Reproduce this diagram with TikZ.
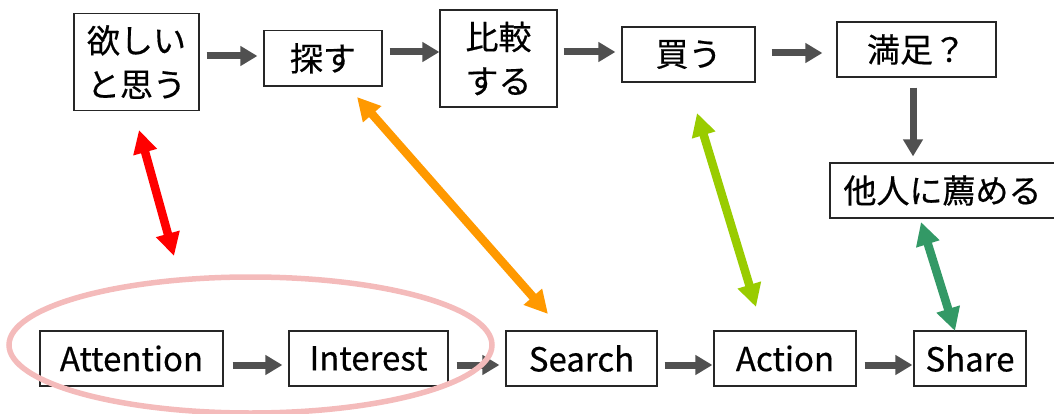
\documentclass[tikz,border=0pt]{standalone}
\usepackage{fontspec}
\setmainfont{Noto Sans CJK JP}[FakeBold=0.5]
\usetikzlibrary{arrows.meta}
\definecolor{arrgray}{HTML}{505050}
\definecolor{cred}{HTML}{FF0000}
\definecolor{corange}{HTML}{FF9900}
\definecolor{cyg}{HTML}{99CC00}
\definecolor{cgreen}{HTML}{339966}
\definecolor{cpink}{HTML}{F4BBBB}
\tikzset{
  stagebox/.style={draw=black!85, line width=1.2pt, inner sep=0pt, align=center,
    font=\fontsize{33pt}{44pt}\selectfont},
  grayarr/.style={draw=arrgray, line width=7pt, -{Triangle[length=17pt,width=19pt]}},
  linkarr/.style={line width=8.5pt, {Triangle[length=23pt,width=23pt]}-{Triangle[length=23pt,width=23pt]}},
  pinkring/.style={draw=cpink, line width=5.5pt}
}
\begin{document}
\begin{tikzpicture}[x=1pt,y=-1pt]
\useasboundingbox (0,0) rectangle (1054,414);
% top row
\node[stagebox, minimum width=125pt, minimum height=97.4pt] (want) at (136.5,62) {欲しい\\と思う};
\node[stagebox, minimum width=118pt, minimum height=55.3pt] (sagasu) at (323,58.3) {探す};
\node[stagebox, minimum width=117pt, minimum height=97pt] (hikaku) at (498.5,58.5) {比較\\する};
\node[stagebox, minimum width=133pt, minimum height=55pt] (kau) at (688.5,54.5) {買う};
\node[stagebox, minimum width=159pt, minimum height=55pt] (manzoku) at (916.5,49.5) {満足？};
\node[stagebox, minimum width=225pt, minimum height=55pt] (susumeru) at (942.5,190.5) {他人に薦める};
% bottom row
\node[stagebox, minimum width=183pt, minimum height=55pt] (attention) at (131.5,358.5) {Attention};
\node[stagebox, minimum width=159pt, minimum height=55pt] (interest) at (368.5,358.5) {Interest};
\node[stagebox, minimum width=151pt, minimum height=55pt] (search) at (581.5,358.5) {Search};
\node[stagebox, minimum width=142pt, minimum height=55pt] (action) at (785,358.5) {Action};
\node[stagebox, minimum width=112pt, minimum height=55pt] (share) at (970,358.5) {Share};
% gray flow arrows
\draw[grayarr, shorten <=7pt, shorten >=6pt] (want.east |- 0,56) -- (sagasu.west |- 0,56);
\draw[grayarr, shorten <=7pt, shorten >=0pt] (sagasu.east |- 0,52) -- (hikaku.west |- 0,52);
\draw[grayarr, shorten <=6pt, shorten >=6pt] (hikaku.east |- 0,52) -- (kau.west |- 0,52);
\draw[grayarr, shorten <=16pt, shorten >=14pt] (kau.east |- 0,53) -- (manzoku.west |- 0,53);
\draw[grayarr, shorten <=10pt, shorten >=6pt] (manzoku.south -| 913,0) -- (susumeru.north -| 913,0);
\draw[grayarr, shorten <=9pt, shorten >=6pt] (attention.east |- 0,365) -- (interest.west |- 0,365);
\draw[grayarr, shorten <=8pt, shorten >=6pt] (interest.east |- 0,365) -- (search.west |- 0,365);
\draw[grayarr, shorten <=7pt, shorten >=1pt] (search.east |- 0,365) -- (action.west |- 0,365);
\draw[grayarr, shorten <=8pt, shorten >=1pt] (action.east |- 0,365) -- (share.west |- 0,365);
% pink ring around Attention and Interest
\draw[pinkring] (250.5,345) ellipse [x radius=241.5pt, y radius=68pt];
% colored two-way links
\coordinate (r1) at (139,130);
\coordinate (r2) at (174,256);
\coordinate (o1) at (357,97);
\coordinate (o2) at (548,314);
\coordinate (y1) at (697,113);
\coordinate (y2) at (756,307);
\coordinate (g1) at (921,222);
\coordinate (g2) at (955,331);
\draw[linkarr, draw=cred, fill=cred] (r1) -- (r2);
\draw[linkarr, draw=corange, fill=corange] (o1) -- (o2);
\draw[linkarr, draw=cyg, fill=cyg] (y1) -- (y2);
\draw[linkarr, draw=cgreen, fill=cgreen] (g1) -- (g2);
\end{tikzpicture}
\end{document}
